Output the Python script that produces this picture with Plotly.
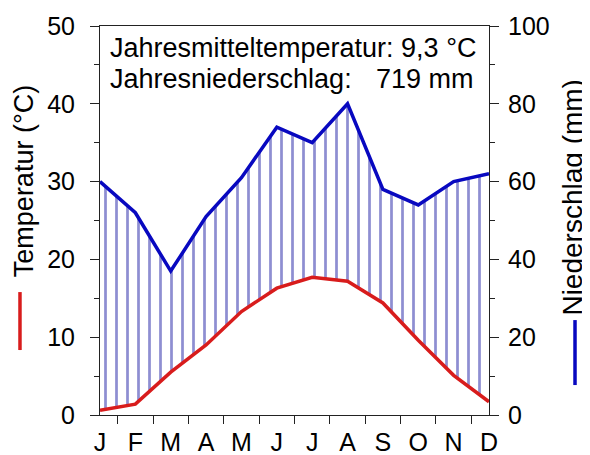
import numpy as np
import plotly.graph_objects as go

MONTHS = ["J", "F", "M", "A", "M", "J", "J", "A", "S", "O", "N", "D"]
TEMP_C = [0.6, 1.4, 5.5, 9.0, 13.3, 16.3, 17.7, 17.2, 14.4, 9.6, 5.1, 1.7]
PRECIP_MM = [60, 52, 37, 51, 61, 74, 70, 80, 58, 54, 60, 62]
TEMP_TICKS = [0, 10, 20, 30, 40, 50]
PRECIP_TICKS = [0, 20, 40, 60, 80, 100]

FONT = "Liberation Sans, Arial, sans-serif"
BLUE = "#0808c0"
RED = "#d81c1c"
HATCH = "rgb(30,30,165)"

x = np.arange(len(MONTHS))
temp_scaled = [t * 2 for t in TEMP_C]  # 10 °C corresponds to 20 mm
mean_t = np.mean(TEMP_C)
sum_p = int(round(sum(PRECIP_MM)))

fig = go.Figure()
fig.add_trace(go.Scatter(x=x, y=temp_scaled, yaxis="y", mode="lines",
                         line=dict(width=0, color="rgba(0,0,0,0)"),
                         hoverinfo="skip", showlegend=False))
fig.add_trace(go.Scatter(x=x, y=PRECIP_MM, yaxis="y", mode="lines",
                         line=dict(width=3.5, color=BLUE),
                         fill="tonexty", fillcolor="rgba(0,0,0,0)",
                         fillpattern=dict(shape="|", size=11, solidity=0.25,
                                          fgcolor=HATCH, bgcolor="rgba(0,0,0,0)",
                                          fillmode="overlay"),
                         showlegend=False))
fig.add_trace(go.Scatter(x=x, y=TEMP_C, yaxis="y2", mode="lines",
                         line=dict(width=3.5, color=RED), showlegend=False))

axis_common = dict(showline=True, linecolor="#222", linewidth=1, showgrid=False,
                   zeroline=False, tickfont=dict(family=FONT, size=25, color="black"),
                   tickcolor="#222")

# page body adds an 8px offset, so the figure is 8px smaller than the window
fig.update_layout(
    width=582, height=447,
    margin=dict(l=92, r=101, t=18, b=40, autoexpand=False),
    paper_bgcolor="white", plot_bgcolor="white",
    xaxis=dict(range=[0, 11], tickmode="array", tickvals=list(x), ticktext=MONTHS,
               ticks="", mirror=True, ticklabelstandoff=5,
               minor=dict(tickmode="array", tickvals=[i + 0.5 for i in x[:-1]],
                          ticks="outside", ticklen=8, tickcolor="#222"),
               **axis_common),
    yaxis=dict(range=[0, 100], side="right", tickmode="array", tickvals=PRECIP_TICKS,
               ticks="outside", ticklen=9, ticklabelstandoff=4,
               minor=dict(dtick=10, ticks="outside", ticklen=5, tickcolor="#222"),
               **axis_common),
    yaxis2=dict(range=[0, 50], side="left", overlaying="y", tickmode="array",
                tickvals=TEMP_TICKS, ticks="outside", ticklen=9, ticklabelstandoff=10,
                minor=dict(dtick=5, ticks="outside", ticklen=5, tickcolor="#222"),
                **axis_common),
    font=dict(family=FONT, size=25, color="black"),
)

ann_font = dict(family=FONT, size=27, color="black")
fig.add_annotation(xref="paper", yref="paper", x=0.0206, y=0.943,
                   xanchor="left", yanchor="middle", showarrow=False,
                   text=f"Jahresmitteltemperatur: {mean_t:.1f} °C".replace(".", ","),
                   font=ann_font)
fig.add_annotation(xref="paper", yref="paper", x=0.0206, y=0.864,
                   xanchor="left", yanchor="middle", showarrow=False,
                   text="Jahresniederschlag:", font=ann_font)
fig.add_annotation(xref="paper", yref="paper", x=0.9663, y=0.864,
                   xanchor="right", yanchor="middle", showarrow=False,
                   text=f"{sum_p} mm", font=ann_font)

fig.add_annotation(xref="paper", yref="paper", x=-0.195, y=0.6015,
                   textangle=-90, showarrow=False, xanchor="center", yanchor="middle",
                   text="Temperatur (°C)", font=dict(family=FONT, size=27, color="black"))
fig.add_annotation(xref="paper", yref="paper", x=1.216, y=0.559,
                   textangle=-90, showarrow=False, xanchor="center", yanchor="middle",
                   text="Niederschlag (mm)", font=dict(family=FONT, size=28, color="black"))
fig.add_shape(type="line", xref="paper", yref="paper", x0=-0.2057, x1=-0.2057,
              y0=0.167, y1=0.316, line=dict(color=RED, width=3.5))
fig.add_shape(type="line", xref="paper", yref="paper", x0=1.2211, x1=1.2211,
              y0=0.077, y1=0.244, line=dict(color=BLUE, width=3.5))

fig.write_html("out.html")
